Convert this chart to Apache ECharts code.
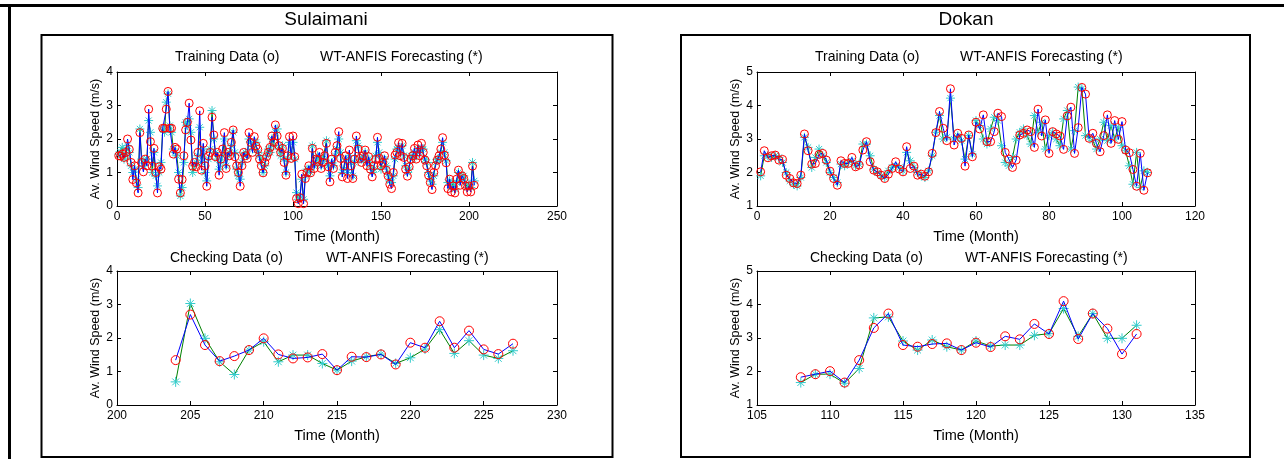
<!DOCTYPE html>
<html><head><meta charset="utf-8">
<script src="https://cdn.jsdelivr.net/npm/echarts@6/dist/echarts.min.js"></script>
<style>html,body{margin:0;padding:0;background:#fff;}#c{width:1284px;height:459px;}</style>
</head><body><div id="c"></div>
<script>
// ---------- DATA ----------
const sulTrainStart = 1;
const sulTrainActual = [
1.50,1.49,1.55,1.45,1.60,2.00,1.69,1.30,0.79,1.20,
0.69,0.39,2.19,1.30,1.02,1.40,1.20,2.89,1.92,1.19,
1.72,1.00,0.39,1.17,1.10,2.32,2.32,2.89,3.42,2.32,
2.32,1.55,1.75,1.70,0.80,0.39,0.79,1.50,2.27,2.50,
3.07,1.97,1.19,1.30,1.17,1.60,2.84,1.07,1.87,1.20,
0.59,1.49,1.60,2.65,2.12,1.47,1.60,0.92,1.40,1.70,
2.19,1.12,1.60,1.50,1.90,2.27,1.47,1.20,1.00,0.59,
1.20,1.60,1.50,1.42,2.19,1.90,1.60,2.07,1.79,1.69,
1.40,1.20,0.99,1.30,1.47,1.60,1.75,2.09,1.90,2.42,
2.09,1.80,1.60,1.72,1.30,0.92,1.50,2.07,1.42,2.09,
1.47,0.22,0.07,0.25,0.95,0.07,0.82,1.00,1.20,0.99,
1.72,1.12,1.40,1.37,1.60,1.12,1.30,1.50,1.87,1.17,
0.72,1.40,1.12,1.60,1.80,2.22,1.42,0.87,1.20,1.50,
0.82,1.67,1.20,0.82,1.40,2.09,1.70,1.42,1.30,1.50,
1.67,1.20,1.47,1.10,0.87,1.20,1.39,2.05,1.42,1.20,
1.30,1.50,1.07,0.90,0.65,0.52,1.00,1.52,1.60,1.89,
1.50,1.87,1.45,1.10,0.89,1.17,1.40,1.50,1.72,1.40,
1.82,1.50,1.87,1.60,1.37,1.20,0.92,0.70,0.49,1.00,
1.20,1.37,1.50,1.70,2.04,1.52,1.29,0.52,0.80,0.42,
0.60,0.39,0.80,1.07,0.62,0.90,0.82,0.60,0.42,0.60,
0.42,1.19,0.62];
const sulTrainForecast = [
1.55,1.60,1.75,1.40,1.50,1.80,1.60,1.20,1.00,1.10,
0.80,0.55,2.30,1.40,1.20,1.30,1.40,2.55,2.20,1.00,
1.60,0.90,0.60,1.00,1.30,2.30,2.20,3.10,3.35,2.40,
2.20,1.70,1.60,1.50,1.00,0.30,0.55,1.30,2.50,2.40,
2.60,2.20,1.00,1.20,1.30,1.50,2.35,1.30,1.70,1.00,
0.75,1.40,1.70,2.85,2.00,1.60,1.40,1.10,1.30,1.50,
2.00,1.20,1.50,1.60,1.80,2.20,1.60,1.10,0.90,0.80,
1.30,1.50,1.60,1.50,2.00,1.90,1.70,1.90,1.90,1.60,
1.50,1.30,1.00,1.20,1.50,1.70,1.60,2.00,1.80,2.20,
2.30,1.70,1.50,1.80,1.40,1.00,1.40,1.90,1.60,1.90,
1.40,0.40,0.20,0.30,0.80,0.20,0.90,1.10,1.10,1.00,
1.80,1.20,1.30,1.50,1.40,1.20,1.40,1.40,1.95,1.20,
0.90,1.30,1.20,1.50,1.70,2.00,1.60,1.00,1.10,1.40,
1.00,1.50,1.30,0.90,1.30,1.95,1.80,1.40,1.40,1.40,
1.60,1.30,1.40,1.20,1.00,1.10,1.50,1.90,1.60,1.10,
1.40,1.40,1.20,0.95,0.75,0.70,0.90,1.40,1.70,1.75,
1.60,1.80,1.50,1.20,1.00,1.10,1.50,1.40,1.60,1.50,
1.70,1.60,1.75,1.70,1.40,1.30,1.00,0.80,0.65,0.90,
1.30,1.40,1.40,1.60,1.90,1.60,1.35,0.70,0.75,0.55,
0.70,0.50,0.70,1.00,0.75,0.85,0.90,0.70,0.55,0.65,
0.55,1.30,0.75];

const sulCheckStart = 204;
const sulCheckActual = [1.34,2.70,1.79,1.31,1.46,1.64,1.99,1.51,1.39,1.42,1.52,1.04,1.44,1.43,1.51,1.21,1.86,1.71,2.50,1.71,2.22,1.66,1.52,1.83];
const sulCheckForecast = [0.69,3.03,1.99,1.29,0.91,1.64,1.89,1.29,1.49,1.49,1.24,1.04,1.31,1.44,1.52,1.24,1.41,1.67,2.25,1.54,1.92,1.49,1.39,1.62];

const dokTrainStart = 1;
const dokTrainActual = [
2.02,2.65,2.44,2.50,2.52,2.37,2.39,1.92,1.82,1.69,
1.67,1.92,3.15,2.65,2.25,2.27,2.54,2.57,2.37,2.04,
1.82,1.62,2.35,2.27,2.27,2.45,2.17,2.22,2.67,2.92,
2.32,2.07,2.02,1.92,1.82,1.95,2.12,2.32,2.10,2.02,
2.77,2.12,2.19,1.92,1.95,1.89,2.02,2.57,3.19,3.82,
3.32,2.95,4.50,2.82,3.17,3.02,2.19,3.12,2.47,3.50,
3.30,3.72,2.92,2.92,3.22,3.77,3.67,2.60,2.40,2.15,
2.37,3.12,3.17,3.27,3.22,2.75,3.89,3.09,3.57,2.57,
3.22,3.15,3.09,2.69,3.69,3.95,2.57,3.34,4.54,4.34,
3.02,3.17,2.87,2.62,3.10,3.72,2.87,3.55,2.99,3.52,
2.67,2.59,2.09,1.59,2.57,1.47,1.99];
const dokTrainForecast = [
1.90,2.50,2.50,2.45,2.50,2.45,2.30,2.00,1.75,1.65,
1.60,1.85,3.05,2.75,2.15,2.45,2.70,2.50,2.30,2.00,
1.85,1.70,2.25,2.20,2.30,2.35,2.20,2.25,2.85,2.85,
2.50,2.10,2.00,1.90,1.85,2.05,2.15,2.20,2.15,2.05,
2.60,2.35,2.15,2.00,1.90,1.85,2.05,2.50,3.20,3.70,
3.00,3.05,4.22,3.00,3.10,2.95,2.40,3.10,2.55,3.55,
3.40,3.00,2.85,3.30,3.65,3.55,2.80,2.30,2.20,2.45,
3.00,3.20,3.30,3.10,2.85,3.70,3.20,3.50,2.70,3.10,
3.20,3.00,2.80,3.60,3.85,2.70,3.25,4.55,4.50,3.10,
3.05,2.95,2.70,3.00,3.50,2.95,3.40,3.00,3.35,2.80,
2.65,2.20,1.65,2.60,1.55,2.05,2.00];

const dokCheckStart = 108;
const dokCheckActual = [1.83,1.92,2.01,1.67,2.34,3.30,3.73,2.79,2.74,2.82,2.84,2.64,2.86,2.73,3.05,2.96,3.42,3.12,4.10,2.97,3.73,3.28,2.52,3.12];
const dokCheckForecast = [1.67,1.92,1.92,1.65,2.09,3.60,3.63,2.91,2.64,2.94,2.74,2.64,2.91,2.76,2.79,2.79,3.08,3.13,3.88,3.05,3.73,2.99,2.99,3.38];

const siteTitles = ['Sulaimani', 'Dokan'];
const trainTitle = ['Training Data (o)', 'WT-ANFIS Forecasting (*)'];
const checkTitle = ['Checking Data (o)', 'WT-ANFIS Forecasting (*)'];
const xName = 'Time (Month)';
const yName = 'Av. Wind Speed (m/s)';

// axis ranges [min, max, interval]
const xRanges = [[0,250,50],[200,230,5],[0,120,20],[105,135,5]];
const yRanges = [[0,4,1],[0,4,1],[1,5,1],[1,5,1]];

// ---------- BUILD ----------
function pairs(start, arr){ return arr.map((v,i)=>[start+i, v]); }
const panels = [
  {a:pairs(sulTrainStart,sulTrainActual), f:pairs(sulTrainStart,sulTrainForecast)},
  {a:pairs(sulCheckStart,sulCheckActual), f:pairs(sulCheckStart,sulCheckForecast)},
  {a:pairs(dokTrainStart,dokTrainActual), f:pairs(dokTrainStart,dokTrainForecast)},
  {a:pairs(dokCheckStart,dokCheckActual), f:pairs(dokCheckStart,dokCheckForecast)}
];
const FONT = 'Liberation Sans, Arial, sans-serif';
const grids = [
  {left:117, top:72, width:440, height:134},
  {left:117, top:271, width:440, height:134},
  {left:757, top:72, width:438, height:134},
  {left:757, top:271, width:438, height:134}
];
const xAxes = [], yAxes = [], series = [];
const STAR = 'path://M5,0L5,10M0,5L10,5M1.6,1.6L8.4,8.4M1.6,8.4L8.4,1.6';
grids.forEach((g,i)=>{
  const xr = xRanges[i], yr = yRanges[i];
  const base = {type:'value', gridIndex:i, axisLine:{show:true,onZero:false,lineStyle:{color:'#000',width:1}},
    axisTick:{show:true,inside:true,length:4,lineStyle:{color:'#000'}}, splitLine:{show:false}};
  xAxes.push(Object.assign({}, base, {min:xr[0], max:xr[1], interval:xr[2], position:'bottom',
    axisLabel:{color:'#000', fontSize:12, fontFamily:FONT, margin:5},
    name:xName, nameLocation:'middle', nameGap:23, nameTextStyle:{color:'#000', fontSize:14.5, fontFamily:FONT}}));
  xAxes.push(Object.assign({}, base, {min:xr[0], max:xr[1], interval:xr[2], position:'top', axisLabel:{show:false}}));
  yAxes.push(Object.assign({}, base, {min:yr[0], max:yr[1], interval:yr[2], position:'left',
    axisLabel:{color:'#000', fontSize:12, fontFamily:FONT, margin:4},
    name:yName, nameLocation:'middle', nameGap:14, nameTextStyle:{color:'#000', fontSize:12.5, fontFamily:FONT}}));
  yAxes.push(Object.assign({}, base, {min:yr[0], max:yr[1], interval:yr[2], position:'right', axisLabel:{show:false}}));
  const xi = i*2, yi = i*2;
  const train = (i%2===0);
  series.push({type:'line', xAxisIndex:xi, yAxisIndex:yi, data:panels[i].f, symbol:STAR, symbolSize: train?9:10,
    lineStyle:{color:'#008000', width:1}, itemStyle:{color:'rgba(0,0,0,0)', borderColor:'#33cccc', borderWidth:1},
    showAllSymbol:true, z:2, silent:true});
  series.push({type:'line', xAxisIndex:xi, yAxisIndex:yi, data:panels[i].a, symbol:'circle', symbolSize: train?8:9,
    lineStyle:{color:'#0000ff', width:1}, itemStyle:{color:'rgba(0,0,0,0)', borderColor:'#ff0000', borderWidth:1},
    showAllSymbol:true, z:3, silent:true});
});

function txt(x,y,t,size,align){ return {type:'text', x:x, y:y, style:{text:t, fill:'#000', font:size+'px '+FONT, textAlign:align||'left', textVerticalAlign:'middle'}, z:10}; }
const graphics = [
  {type:'rect', shape:{x:0,y:4,width:1284,height:3}, style:{fill:'#000'}},
  {type:'rect', shape:{x:8,y:4,width:3,height:455}, style:{fill:'#000'}},
  {type:'rect', shape:{x:41.5,y:35,width:571,height:422}, style:{fill:'none', stroke:'#000', lineWidth:2}},
  {type:'rect', shape:{x:681,y:35,width:569,height:422}, style:{fill:'none', stroke:'#000', lineWidth:2}},
  txt(326,20,siteTitles[0],19,'center'),
  txt(966,20,siteTitles[1],19,'center'),
  txt(175,57,trainTitle[0],14), txt(320,57,trainTitle[1],14),
  txt(815,57,trainTitle[0],14), txt(960,57,trainTitle[1],14),
  txt(170,258,checkTitle[0],14), txt(326,258,checkTitle[1],14),
  txt(810,258,checkTitle[0],14), txt(965,258,checkTitle[1],14)
];

const chart = echarts.init(document.getElementById('c'), null, {renderer:'canvas'});
chart.setOption({animation:false, backgroundColor:'#fff', grid:grids, xAxis:xAxes, yAxis:yAxes, series:series, graphic:graphics});
</script></body></html>
